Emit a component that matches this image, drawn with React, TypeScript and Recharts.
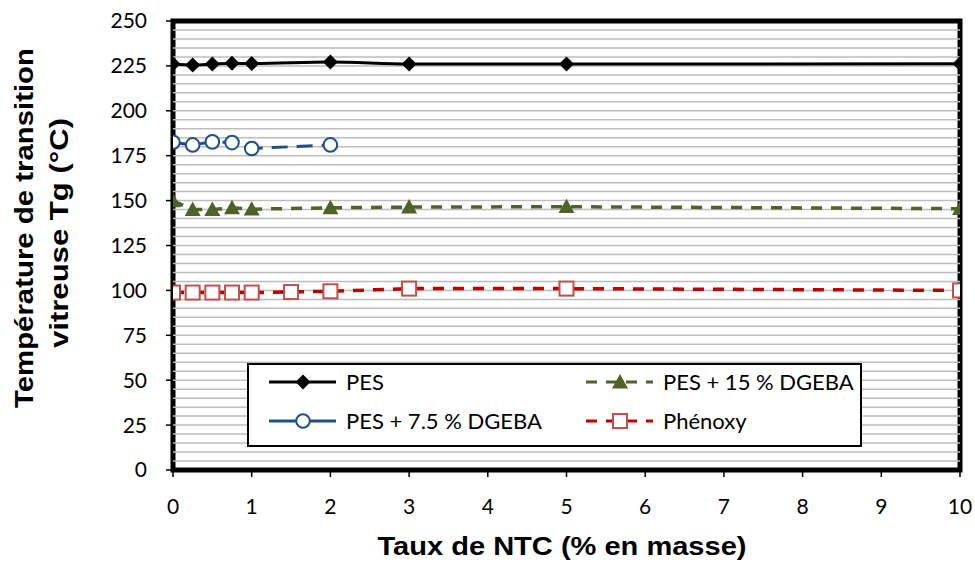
import { LineChart, Line, XAxis, YAxis, ReferenceArea, ReferenceLine } from "recharts";

// Taux de NTC (% en masse) per series, and measured Tg (°C)
const xPes = [0, 0.25, 0.5, 0.75, 1, 2, 3, 5, 10];
const tgPes = [226, 225.5, 226, 226.5, 226.3, 227.2, 226, 226, 226.2];

const xPes75 = [0, 0.25, 0.5, 0.75, 1, 2];
const tgPes75 = [182.5, 181, 182.7, 182.3, 179, 181];

const xPes15 = [0, 0.25, 0.5, 0.75, 1, 2, 3, 5, 10];
const tgPes15 = [149.8, 145, 145, 146, 145.2, 146, 146.4, 146.6, 145.5];

const xPhenoxy = [0, 0.25, 0.5, 0.75, 1, 1.5, 2, 3, 5, 10];
const tgPhenoxy = [98.8, 98.8, 98.8, 98.8, 98.8, 99.1, 99.5, 101, 101, 100];

const xTicks = [0, 1, 2, 3, 4, 5, 6, 7, 8, 9, 10];
const yTicks = [0, 25, 50, 75, 100, 125, 150, 175, 200, 225, 250];
const gridLines = [
  5, 10, 15, 20, 25, 30, 35, 40, 45, 50, 55, 60, 65, 70, 75, 80, 85, 90, 95, 100,
  105, 110, 115, 120, 125, 130, 135, 140, 145, 150, 155, 160, 165, 170, 175, 180,
  185, 190, 195, 200, 205, 210, 215, 220, 225, 230, 235, 240, 245,
];

const toRows = (xs: number[], ys: number[]) => xs.map((x, i) => ({ x, y: ys[i] }));

const pesData = toRows(xPes, tgPes);
const pes75Data = toRows(xPes75, tgPes75);
const pes15Data = toRows(xPes15, tgPes15);
const phenoxyData = toRows(xPhenoxy, tgPhenoxy);

const BLUE = "#1f4e8c";
const GREEN = "#4f6228";
const RED = "#c00000";
const RED_MARK = "#c0504d";

const TITLE_FONT = "'Liberation Sans', Arial, sans-serif";
const TICK_FONT = "Lato, 'Noto Sans', sans-serif";

function Diamond({ cx, cy }: { cx: number; cy: number }) {
  const s = 7.5;
  return <polygon points={`${cx},${cy - s} ${cx + s},${cy} ${cx},${cy + s} ${cx - s},${cy}`} fill="#000" />;
}

function Circle({ cx, cy }: { cx: number; cy: number }) {
  return <circle cx={cx} cy={cy} r={6.8} fill="#fff" stroke={BLUE} strokeWidth={2} />;
}

function Triangle({ cx, cy }: { cx: number; cy: number }) {
  const s = 8;
  return <polygon points={`${cx},${cy - s} ${cx + s},${cy + s * 0.8} ${cx - s},${cy + s * 0.8}`} fill={GREEN} />;
}

function Square({ cx, cy }: { cx: number; cy: number }) {
  const s = 7;
  return <rect x={cx - s} y={cy - s} width={2 * s} height={2 * s} fill="#fff" stroke={RED_MARK} strokeWidth={2} />;
}

const dotOf = (Shape: typeof Diamond) => (props: any) =>
  <Shape key={`${props.dataKey}-${props.index}`} cx={props.cx} cy={props.cy} />;

function YTitle() {
  return (
    <g fontFamily={TITLE_FONT} fontWeight="bold" fontSize={26} fill="#000">
      <text x={33} y={228} transform="rotate(-90 33 228)" textAnchor="middle" textLength={360} lengthAdjust="spacingAndGlyphs">
        Température de transition
      </text>
      <text x={68} y={233} transform="rotate(-90 68 233)" textAnchor="middle" textLength={230} lengthAdjust="spacingAndGlyphs">
        vitreuse  Tg (°C)
      </text>
    </g>
  );
}

function XTitle() {
  return (
    <text x={562} y={555} textAnchor="middle" fontFamily={TITLE_FONT} fontWeight="bold" fontSize={26} fill="#000"
      textLength={369} lengthAdjust="spacingAndGlyphs">
      Taux de NTC (% en masse)
    </text>
  );
}

function LegendItem({ left, top, color, dash, label, Shape }: any) {
  return (
    <div style={{ position: "absolute", left, top, display: "flex", alignItems: "center" }}>
      <svg width={70} height={20}>
        <line x1={1} y1={10} x2={68} y2={10} stroke={color} strokeWidth={3} strokeDasharray={dash} />
        <Shape cx={35} cy={10} />
      </svg>
      <span style={{ marginLeft: 8, fontFamily: TICK_FONT, fontSize: 22, color: "#000", lineHeight: "20px", whiteSpace: "nowrap" }}>{label}</span>
    </div>
  );
}

function LegendBox() {
  return (
    <div style={{ position: "absolute", left: 247, top: 363, width: 615, height: 84, border: "2px solid #000", background: "#fff", boxSizing: "border-box" }}>
      <LegendItem left={19} top={7} color="#000" label="PES" Shape={Diamond} />
      <LegendItem left={19} top={46} color={BLUE} label="PES + 7.5 % DGEBA" Shape={Circle} />
      <LegendItem left={336} top={7} color={GREEN} dash="11 9" label="PES + 15 % DGEBA" Shape={Triangle} />
      <LegendItem left={336} top={46} color={RED} dash="11 9" label="Phénoxy" Shape={Square} />
    </div>
  );
}

export default function App() {
  return (
    <div style={{ position: "absolute", left: 0, top: 0, width: 975, height: 563, background: "#fff" }}>
      <LineChart width={975} height={563} margin={{ top: 21, right: 15, bottom: 3, left: 0 }}>
        <XAxis
          type="number"
          dataKey="x"
          domain={[0, 10]}
          ticks={xTicks}
          height={90}
          allowDataOverflow
          axisLine={false}
          tickLine={{ stroke: "#000", strokeWidth: 1.5 }}
          tickSize={7}
          tickMargin={22}
          tick={{ fontFamily: TICK_FONT, fontSize: 21, fill: "#000" }}
          label={<XTitle />}
        />
        <YAxis
          type="number"
          domain={[0, 250]}
          ticks={yTicks}
          width={173}
          allowDataOverflow
          axisLine={false}
          tickLine={{ stroke: "#000", strokeWidth: 1.5 }}
          tickSize={7}
          tickMargin={19}
          tick={{ fontFamily: TICK_FONT, fontSize: 21, fill: "#000" }}
          label={<YTitle />}
        />
        {gridLines.map((v) => (
          <ReferenceLine key={v} y={v} stroke="#bdbdbd" strokeWidth={1.5} />
        ))}
        <ReferenceArea x1={0} x2={10} y1={0} y2={250} fill="none" stroke="#000" strokeWidth={5} ifOverflow="visible" />
        <Line data={phenoxyData} dataKey="y" type="linear" stroke={RED} strokeWidth={3.5} strokeDasharray="11 9"
          dot={dotOf(Square)} activeDot={false} isAnimationActive={false} />
        <Line data={pes15Data} dataKey="y" type="linear" stroke={GREEN} strokeWidth={3.5} strokeDasharray="11 9"
          dot={dotOf(Triangle)} activeDot={false} isAnimationActive={false} />
        <Line data={pes75Data} dataKey="y" type="linear" stroke={BLUE} strokeWidth={3} strokeDasharray="16 9"
          dot={dotOf(Circle)} activeDot={false} isAnimationActive={false} />
        <Line data={pesData} dataKey="y" type="monotone" stroke="#000" strokeWidth={3}
          dot={dotOf(Diamond)} activeDot={false} isAnimationActive={false} />
      </LineChart>
      <LegendBox />
    </div>
  );
}
